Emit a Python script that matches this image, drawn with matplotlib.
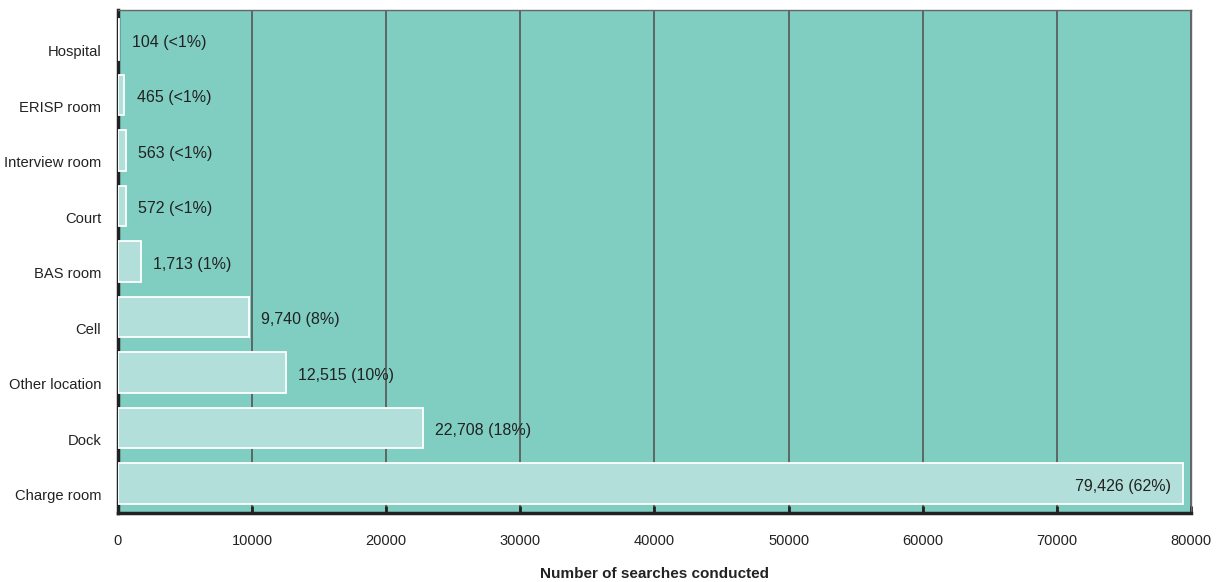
import matplotlib.pyplot as plt
from matplotlib.transforms import ScaledTranslation

categories = ["Hospital", "ERISP room", "Interview room", "Court", "BAS room",
              "Cell", "Other location", "Dock", "Charge room"]
values = [104, 465, 563, 572, 1713, 9740, 12515, 22708, 79426]
labels = ["104 (<1%)", "465 (<1%)", "563 (<1%)", "572 (<1%)", "1,713 (1%)",
          "9,740 (8%)", "12,515 (10%)", "22,708 (18%)", "79,426 (62%)"]
xticks = [0, 10000, 20000, 30000, 40000, 50000, 60000, 70000, 80000]

plt.rcParams["font.family"] = ["Liberation Sans", "DejaVu Sans"]
plt.rcParams["font.size"] = 10.5

fig = plt.figure(figsize=(12.24, 5.82), dpi=100)
ax = fig.add_axes([0.0964, 0.1186, 0.8766, 0.8642])
ax.set_facecolor("#80cdc1")

# first category on top
ypos = list(range(len(categories)))[::-1]
ax.barh(ypos, values, height=0.73, color="#b2dfd9", edgecolor="white",
        linewidth=1.3, zorder=3)

for y, v, lab in zip(ypos, values, labels):
    if v > 70000:
        ax.annotate(lab, (v, y), xytext=(-9, -2), textcoords="offset points",
                    ha="right", va="center", color="#222222", zorder=4,
                    fontsize=11.5)
    else:
        ax.annotate(lab, (v, y), xytext=(9, -2), textcoords="offset points",
                    ha="left", va="center", color="#222222", zorder=4,
                    fontsize=11.5)

ax.set_xlim(0, 80000)
ax.set_ylim(-0.53, len(categories) - 0.47)
ax.set_xticks(xticks)
ax.set_xticklabels([str(t) for t in xticks], fontsize=10.5)
ax.set_yticks(ypos)
ax.set_yticklabels(categories, fontsize=10.6)
ax.xaxis.grid(True, color="#555555", linewidth=1.2, zorder=1)
ax.set_axisbelow(True)

ax.tick_params(axis="x", direction="in", length=5, width=2, pad=15, colors="#222222")
ax.tick_params(axis="y", length=0, pad=12, colors="#222222")
# category names sit a little below the bar centres in the original
shift = ScaledTranslation(0, -8 / 72, fig.dpi_scale_trans)
for t in ax.get_yticklabels():
    t.set_transform(t.get_transform() + shift)

for s in ["left", "bottom"]:
    ax.spines[s].set_linewidth(2.5)
    ax.spines[s].set_color("#222222")
for s in ["top", "right"]:
    ax.spines[s].set_linewidth(1)
    ax.spines[s].set_color("#666666")

ax.set_xlabel("Number of searches conducted", fontweight="bold", labelpad=14,
              color="#222222", fontsize=11)

fig.savefig("out.png", dpi=100)
